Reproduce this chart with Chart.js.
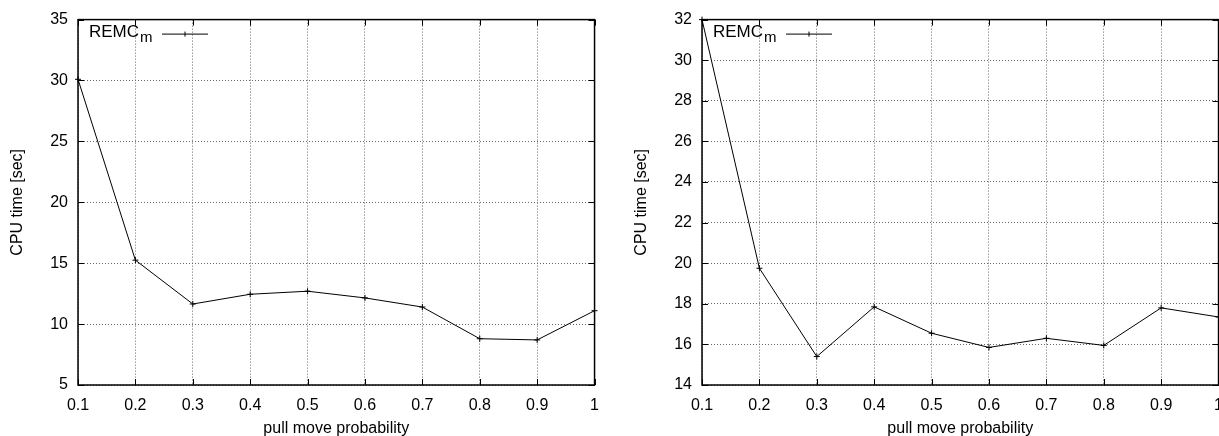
<!DOCTYPE html>
<html>
<head>
<meta charset="utf-8">
<script src="https://cdn.jsdelivr.net/npm/chart.js@4/dist/chart.umd.min.js"></script>
<style>
  html, body { margin: 0; padding: 0; background: #fff; overflow: hidden; }
  body { width: 1219px; height: 436px; position: relative; }
  canvas { position: absolute; top: 0; }
  #chartA { left: 0; }
  #chartB { left: 624px; }
</style>
</head>
<body>
<canvas id="chartA" width="610" height="436"></canvas>
<canvas id="chartB" width="610" height="436"></canvas>
<script>
// pull move probability on the x axis
const probs = [0.1, 0.2, 0.3, 0.4, 0.5, 0.6, 0.7, 0.8, 0.9, 1.0];
// CPU time [sec], left panel
const cpuA = [30.1, 15.25, 11.65, 12.45, 12.7, 12.15, 11.4, 8.8, 8.7, 11.1];
// CPU time [sec], right panel
const cpuB = [32.0, 19.75, 15.4, 17.85, 16.55, 15.85, 16.3, 15.95, 17.8, 17.35];
const seriesName = 'REMC';
const seriesSub = 'm';
const xTitle = 'pull move probability';
const yTitle = 'CPU time [sec]';

const FONT = '"Liberation Sans", Arial, Helvetica, sans-serif';

// gnuplot style frame with inward ticks on all four sides + key
const framePlugin = {
  id: 'frame',
  afterDraw(chart) {
    const c = chart.ctx;
    const a = chart.chartArea;
    const xs = chart.scales.x, ys = chart.scales.y;
    c.save();
    c.strokeStyle = '#000';
    c.lineWidth = 1.5;
    c.strokeRect(a.left, a.top, a.right - a.left, a.bottom - a.top);
    c.lineWidth = 1;
    c.beginPath();
    xs.ticks.forEach(t => {
      const px = Math.round(xs.getPixelForValue(t.value)) + 0.5;
      c.moveTo(px, a.bottom); c.lineTo(px, a.bottom - 6);
      c.moveTo(px, a.top); c.lineTo(px, a.top + 6);
    });
    ys.ticks.forEach(t => {
      const py = Math.round(ys.getPixelForValue(t.value)) + 0.5;
      c.moveTo(a.left, py); c.lineTo(a.left + 6, py);
      c.moveTo(a.right, py); c.lineTo(a.right - 6, py);
    });
    c.stroke();

    // key
    const ky = a.top + 13;
    c.fillStyle = '#000';
    c.textBaseline = 'middle';
    c.font = '17px ' + FONT;
    c.fillText(seriesName, a.left + 11, ky);
    const w = c.measureText(seriesName).width;
    c.font = '15px ' + FONT;
    c.fillText(seriesSub, a.left + 12 + w, ky + 5);
    const lx0 = a.left + 84, lx1 = a.left + 130, cx = (lx0 + lx1) / 2;
    c.beginPath();
    c.moveTo(lx0, ky + 1.5); c.lineTo(lx1, ky + 1.5);
    c.moveTo(cx, ky - 1); c.lineTo(cx, ky + 4);
    c.stroke();
    c.restore();
  }
};

function makeChart(id, values, yMin, yMax, yStep) {
  return new Chart(document.getElementById(id), {
    type: 'line',
    data: {
      datasets: [{
        label: seriesName + seriesSub,
        data: probs.map((p, i) => ({ x: p, y: values[i] })),
        borderColor: '#000',
        backgroundColor: '#000',
        borderWidth: 1,
        tension: 0,
        pointStyle: 'cross',
        pointRadius: 3,
        pointBorderWidth: 1,
        clip: false
      }]
    },
    options: {
      responsive: false,
      animation: false,
      layout: { padding: { left: 0, right: 14, top: 19, bottom: 0 } },
      plugins: { legend: { display: false }, tooltip: { enabled: false } },
      scales: {
        x: {
          type: 'linear',
          min: 0.1, max: 1.0,
          afterFit: s => { s.height = 51; },
          ticks: {
            stepSize: 0.1,
            padding: 11,
            color: '#000',
            font: { family: FONT, size: 16 },
            maxRotation: 0,
            callback: v => String(Number(v.toFixed(1)))
          },
          grid: { color: '#666', lineWidth: 1, drawTicks: false },
          border: { display: false, dash: [1, 2] },
          title: {
            display: true, text: xTitle, color: '#000',
            font: { family: FONT, size: 16 },
            padding: { top: 0, bottom: -2 }
          }
        },
        y: {
          min: yMin, max: yMax,
          afterFit: s => { s.width = 78; },
          ticks: {
            stepSize: yStep,
            padding: 10,
            color: '#000',
            font: { family: FONT, size: 16 }
          },
          grid: { color: '#666', lineWidth: 1, drawTicks: false },
          border: { display: false, dash: [1, 2] },
          title: {
            display: true, text: yTitle, color: '#000',
            font: { family: FONT, size: 16 },
            padding: { top: 8, bottom: 0 }
          }
        }
      }
    },
    plugins: [framePlugin]
  });
}

makeChart('chartA', cpuA, 5, 35, 5);
makeChart('chartB', cpuB, 14, 32, 2);
</script>
</body>
</html>
